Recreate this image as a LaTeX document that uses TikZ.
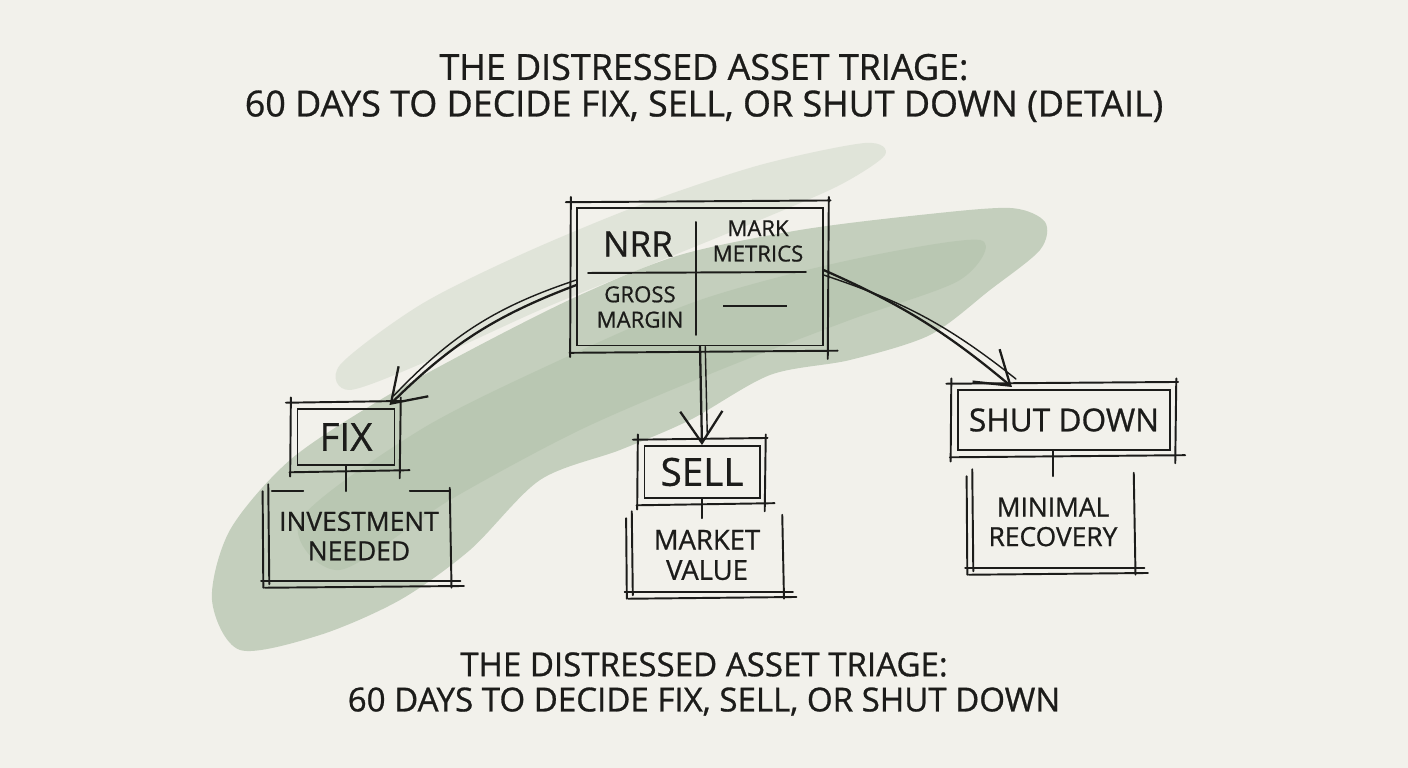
\documentclass[tikz,border=0pt]{standalone}
\usepackage{fontspec}
\setmainfont{Open Sans}[FakeBold=0.8]
\usetikzlibrary{arrows.meta,positioning}
\definecolor{paper}{HTML}{F2F1EB}
\definecolor{ink}{HTML}{1C1C1A}
\definecolor{wash}{HTML}{7F9D78}
\tikzset{
  inkline/.style={draw=ink, line width=0.55pt, line cap=round},
  titletext/.style={font=\fontsize{10.2}{10.4}\selectfont, text=ink, align=center},
  celltext/.style={font=\fontsize{6.3}{7.2}\selectfont, text=ink, align=center},
  choicebox/.style={inkline, font=\fontsize{11}{12}\selectfont, text=ink, inner sep=0pt},
  resultbox/.style={font=\fontsize{7.5}{8.4}\selectfont, text=ink, align=center, inner sep=0pt},
  flow/.style={inkline, line width=0.65pt, -{Straight Barb[length=9pt,width=12pt]}},
}
% rough double strokes round a box
\newcommand{\sketchframe}[1]{%
  \draw[inkline] ([shift={(-3pt,1.5pt)}]#1.north west) -- ([shift={(2pt,2pt)}]#1.north east);
  \draw[inkline] ([shift={(-2pt,-1.8pt)}]#1.south west) -- ([shift={(4pt,-1.2pt)}]#1.south east);
  \draw[inkline] ([shift={(-1.6pt,3pt)}]#1.north west) -- ([shift={(-1.8pt,-3pt)}]#1.south west);
  \draw[inkline] ([shift={(1.5pt,3pt)}]#1.north east) -- ([shift={(1.2pt,-3.5pt)}]#1.south east);
}
% box with sides and bottom only
\newcommand{\opensketch}[1]{%
  \draw[inkline] ([shift={(0pt,2pt)}]#1.north west) -- ([shift={(0.3pt,-1pt)}]#1.south west);
  \draw[inkline] ([shift={(-1.6pt,0pt)}]#1.north west) -- ([shift={(-1.4pt,-2pt)}]#1.south west);
  \draw[inkline] ([shift={(0pt,1pt)}]#1.north east) -- ([shift={(0.5pt,-2pt)}]#1.south east);
  \draw[inkline] ([shift={(-2pt,0pt)}]#1.south west) -- ([shift={(3pt,0pt)}]#1.south east);
  \draw[inkline] ([shift={(-1pt,-2pt)}]#1.south west) -- ([shift={(4pt,-1.5pt)}]#1.south east);
}
\begin{document}
\begin{tikzpicture}[x=0.01cm, y=-0.01cm]
\useasboundingbox[fill=paper] (0,0) rectangle (1408,768);
% green wash
\fill[wash, opacity=0.15] plot[smooth cycle] coordinates {(340,365) (420,305) (520,255) (640,205) (760,165) (865,143) (885,155) (840,185) (760,220) (650,265) (540,310) (430,360) (350,390)};
\fill[wash, opacity=0.4] plot[smooth cycle] coordinates {(212,600) (230,530) (290,460) (380,400) (480,345) (580,295) (680,255) (800,230) (920,215) (1010,208) (1045,222) (1040,250) (990,290) (930,335) (850,360) (770,375) (690,420) (620,450) (540,480) (470,550) (400,600) (320,635) (240,650)};
\fill[wash, opacity=0.15] plot[smooth cycle] coordinates {(300,520) (420,430) (560,360) (700,300) (850,260) (980,240) (960,280) (850,320) (720,370) (580,430) (450,500) (340,570)};

\node[titletext] (title) at (704,88) {THE DISTRESSED ASSET TRIAGE:\\60 DAYS TO DECIDE FIX, SELL, OR SHUT DOWN (DETAIL)};

% metrics table
\node[inkline, minimum width=2.45cm, minimum height=1.37cm] (metrics) at (700,277) {};
\sketchframe{metrics}
\draw[inkline] (696,222) -- (696,335);
\draw[inkline] (588,273) -- (806,272);
\node[font=\fontsize{10}{11}\selectfont, text=ink] (nrr) at (638,244) {NRR};
\node[celltext] (mark) at (758,241) {MARK\\METRICS};
\node[celltext] (gross) at (640,307) {GROSS\\MARGIN};
\node[inner sep=0pt] (blank) at (755,306) {\color{ink}\rule{18pt}{0.6pt}};

% choices
\node[choicebox, minimum width=0.97cm, minimum height=0.56cm] (fix) at (346,437) {FIX};
\node[choicebox, minimum width=1.15cm, minimum height=0.52cm] (sell) at (702,472) {SELL};
\node[choicebox, font=\fontsize{9}{10}\selectfont, minimum width=2.12cm, minimum height=0.6cm] (shut) at (1064,420) {SHUT DOWN};
\sketchframe{fix}
\sketchframe{sell}
\sketchframe{shut}

% outcomes
\node[resultbox, minimum width=1.8cm, minimum height=0.88cm] (invest) at (359,536) {INVESTMENT\\NEEDED};
\node[resultbox, font=\fontsize{7.8}{8.6}\selectfont, minimum width=1.49cm, minimum height=0.72cm] (market) at (707,555) {MARKET\\VALUE};
\node[resultbox, minimum width=1.6cm, minimum height=0.9cm] (minimal) at (1053,522) {MINIMAL\\RECOVERY};
\opensketch{invest}
\opensketch{market}
\opensketch{minimal}
\draw[inkline] ([xshift=1pt]invest.north west) -- ([xshift=0.35cm]invest.north west);
\draw[inkline] ([xshift=-0.4cm]invest.north east) -- (invest.north east);

\draw[inkline] (fix.south) -- (fix.south |- invest.north);
\draw[inkline] (sell.south) -- (sell.south |- market.north);
\draw[inkline] (minimal.north |- shut.south) -- (minimal.north);

% arrows
\draw[flow] ([yshift=-0.08cm]metrics.west) to[bend right=12] ([xshift=-0.06cm,yshift=0.03cm]fix.north east);
\draw[inkline, line width=0.4pt] ([yshift=-0.03cm]metrics.west) to[bend right=14] ([xshift=-0.02cm,yshift=0.12cm]fix.north east);
\draw[flow] (metrics.south) -- (sell.north);
\draw[inkline, line width=0.4pt] ([xshift=1.5pt]metrics.south) -- ([xshift=1.5pt,yshift=0.1cm]sell.north);
\draw[flow] ([yshift=0.07cm]metrics.east) to[bend left=8] ([xshift=-0.52cm,yshift=0.02cm]shut.north);
\draw[inkline, line width=0.4pt] ([yshift=0.02cm]metrics.east) to[bend left=10] ([xshift=-0.48cm,yshift=0.1cm]shut.north);

\node[titletext, font=\fontsize{9.4}{10}\selectfont] (caption) at (704,684) {THE DISTRESSED ASSET TRIAGE:\\60 DAYS TO DECIDE FIX, SELL, OR SHUT DOWN};
\end{tikzpicture}
\end{document}
